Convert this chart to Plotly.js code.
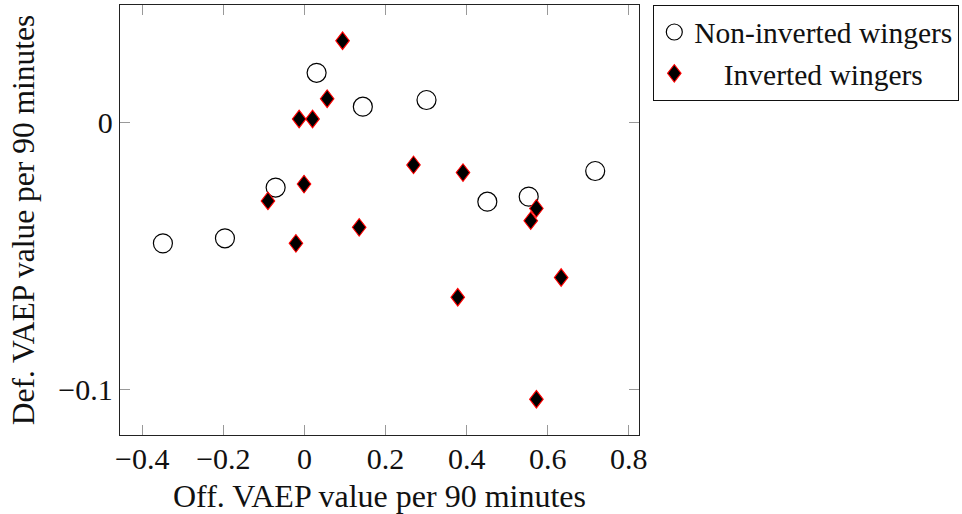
<!DOCTYPE html>
<html>
<head>
<meta charset="utf-8">
<script src="https://cdn.plot.ly/plotly-3.0.1.min.js"></script>
<style>html,body{margin:0;padding:0;background:#fff;}</style>
</head>
<body>
<div id="chart" style="width:962px;height:514px;"></div>
<script>
// Non-inverted wingers (Off. VAEP, Def. VAEP)
const nonInvX = [-0.349, -0.196, -0.071, 0.030, 0.144, 0.301, 0.451, 0.553, 0.717];
const nonInvY = [-0.0451, -0.0432, -0.0242, 0.0188, 0.0061, 0.0086, -0.0295, -0.0276, -0.0180];
// Inverted wingers
const invX = [0.094, 0.056, -0.013, 0.020, -0.001, -0.090, 0.269, 0.391, 0.572, 0.558, -0.021, 0.135, 0.378, 0.633, 0.572];
const invY = [0.0308, 0.0091, 0.0015, 0.0015, -0.0229, -0.0292, -0.0157, -0.0186, -0.0320, -0.0366, -0.0451, -0.0391, -0.0653, -0.0579, -0.1035];

const xTickVals = [-0.4, -0.2, 0, 0.2, 0.4, 0.6, 0.8];
const xTickText = ['\u22120.4', '\u22120.2', '0', '0.2', '0.4', '0.6', '0.8'];
const yTickVals = [-0.1, 0];
const yTickText = ['\u22120.1', '0'];

const FONT = 'Liberation Serif, Times New Roman, serif';

const traces = [
  {
    type: 'scatter', mode: 'markers', name: 'Non-inverted wingers',
    x: nonInvX, y: nonInvY,
    marker: {symbol: 'circle', size: 19, color: 'rgba(255,255,255,0)', line: {color: '#000', width: 1.2}}
  },
  {
    type: 'scatter', mode: 'markers', name: '\u00a0\u00a0\u00a0\u00a0Inverted wingers',
    x: invX, y: invY,
    marker: {symbol: 'diamond', size: 13.5, color: '#000', line: {color: '#ff0000', width: 1.3}}
  }
];

const axisCommon = {
  showgrid: false, zeroline: false,
  showline: true, mirror: 'allticks', linecolor: '#222', linewidth: 1.3,
  ticks: 'inside', ticklen: 10, tickcolor: '#999', tickwidth: 1,
  tickfont: {family: FONT, size: 30, color: '#111'},
  tickmode: 'array'
};

const layout = {
  width: 962, height: 514,
  margin: {l: 120, r: 323, t: 5, b: 79},
  paper_bgcolor: '#fff', plot_bgcolor: '#fff',
  font: {family: FONT, color: '#111'},
  showlegend: true,
  xaxis: Object.assign({}, axisCommon, {
    range: [-0.4548, 0.825],
    tickvals: xTickVals, ticktext: xTickText,
    ticklabelstandoff: -3,
    title: {text: 'Off. VAEP value per 90 minutes', font: {family: FONT, size: 32, color: '#111'}, standoff: 14}
  }),
  yaxis: Object.assign({}, axisCommon, {
    range: [-0.1169, 0.0442],
    tickvals: yTickVals, ticktext: yTickText,
    title: {text: 'Def. VAEP value per 90 minutes', font: {family: FONT, size: 31.5, color: '#111'}, standoff: 14}
  }),
  legend: {
    xref: 'container', yref: 'container',
    x: 653 / 962, y: 1 - 5 / 514, xanchor: 'left', yanchor: 'top',
    bordercolor: '#111', borderwidth: 1.3, bgcolor: '#fff',
    font: {family: FONT, size: 29.5, color: '#111'},
    tracegroupgap: 0
  }
};

Plotly.newPlot('chart', traces, layout, {displayModeBar: false, staticPlot: true}).then(function (gd) {
  // narrow the diamonds to the pgfplots aspect ratio
  const layers = gd.querySelectorAll('.scatterlayer .trace');
  if (layers.length > 1) {
    layers[1].querySelectorAll('path.point').forEach(function (p) {
      const t = p.getAttribute('transform') || '';
      p.setAttribute('transform', t + ' scale(0.77,1)');
    });
  }
  const leg = gd.querySelectorAll('.legend .traces');
  if (leg.length > 1) {
    leg[1].querySelectorAll('path.scatterpts').forEach(function (p) {
      const t = p.getAttribute('transform') || '';
      p.setAttribute('transform', t + ' scale(0.77,1)');
    });
  }
});
</script>
</body>
</html>
